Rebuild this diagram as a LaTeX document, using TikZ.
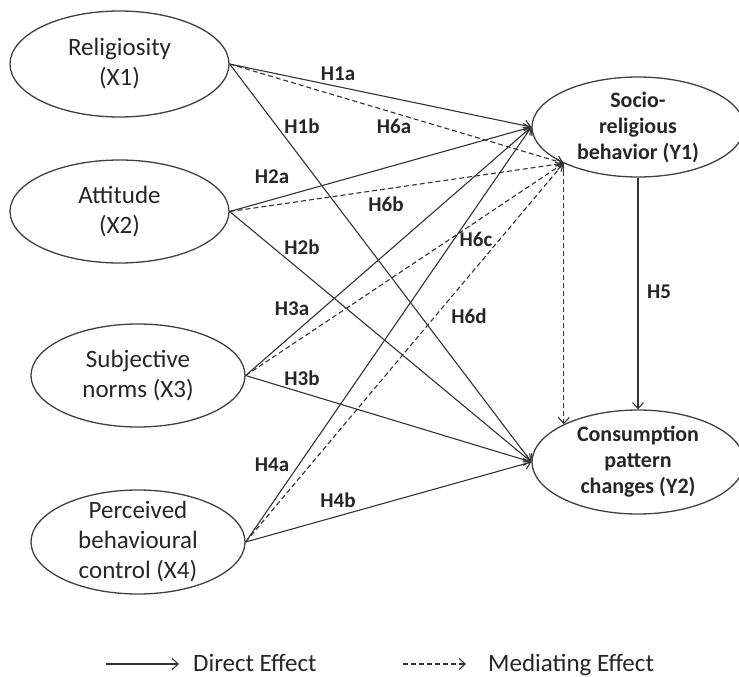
\documentclass[tikz,border=0pt]{standalone}
\usepackage{fontspec}
\setmainfont{Carlito}
\usetikzlibrary{shapes.geometric,arrows.meta}

\tikzset{
    latent/.style={ellipse,draw=black!75,line width=1.3pt,inner sep=0pt},
    lattext/.style={align=center,inner sep=0pt,text=black!85,font=\fontsize{25}{30}\selectfont},
    outtext/.style={lattext,font=\fontsize{22}{26}\selectfont\bfseries},
    hyp/.style={inner sep=0pt,text=black!85,font=\fontsize{21}{25}\selectfont\bfseries},
    direct/.style={draw=black!80,line width=1.1pt,-{Straight Barb[length=6pt,width=11pt]}},
    mediating/.style={direct,dash pattern=on 5pt off 3pt},
}

\begin{document}
\begin{tikzpicture}[x=1pt,y=-1pt]
    \useasboundingbox (0,0) rectangle (739,677);

    % independent constructs
    \node[latent,minimum width=219pt,minimum height=106pt] (rel) at (119.5,64) {};
    \node[lattext] (reltext) at (rel.center) {Religiosity\\(X1)};
    \node[latent,minimum width=219pt,minimum height=103pt] (att) at (119.5,211.5) {};
    \node[lattext] (atttext) at (att.center) {Attitude\\(X2)};
    \node[latent,minimum width=214pt,minimum height=103pt] (sn) at (138,375.5) {};
    \node[lattext] (sntext) at (sn.center) {Subjective\\norms (X3)};
    \node[latent,minimum width=214pt,minimum height=104pt] (pbc) at (138,542) {};
    \node[lattext] (pbctext) at (pbc.center) {Perceived\\behavioural\\control (X4)};

    % dependent constructs
    \node[latent,minimum width=212pt,minimum height=100pt] (srb) at (638,127) {};
    \node[outtext] (srbtext) at (srb.center) {Socio-\\religious\\behavior (Y1)};
    \node[latent,minimum width=212pt,minimum height=104pt] (cpc) at (638,462) {};
    \node[outtext] (cpctext) at (cpc.center) {Consumption\\pattern\\changes (Y2)};

    % direct effects
    \foreach \src in {rel,att,sn,pbc}{
        \draw[direct] (\src.east) -- (srb.west);
        \draw[direct] (\src.east) -- (cpc.west);
    }
    \draw[direct] (srb.south) -- (cpc.north);

    % mediating effects
    \foreach \src in {rel,att,sn,pbc}
        \draw[mediating] (\src.east) -- (srb.206);
    \draw[mediating] (cpc.153 |- srb.206) -- (cpc.153);

    % hypothesis labels
    \node[hyp] (h1a) at (338,74) {H1a};
    \node[hyp] (h1b) at (302,126) {H1b};
    \node[hyp] (h6a) at (394,126) {H6a};
    \node[hyp] (h2a) at (272,177) {H2a};
    \node[hyp] (h6b) at (386,204) {H6b};
    \node[hyp] (h2b) at (302,247) {H2b};
    \node[hyp] (h6c) at (476,239) {H6c};
    \node[hyp] (h3a) at (292,309) {H3a};
    \node[hyp] (h6d) at (469,316) {H6d};
    \node[hyp] (h5) at (659,292) {H5};
    \node[hyp] (h3b) at (302,378) {H3b};
    \node[hyp] (h4a) at (272,465) {H4a};
    \node[hyp] (h4b) at (338,500) {H4b};

    % legend
    \coordinate (ld1) at (106,664);
    \coordinate (ld2) at (179,664);
    \coordinate (lm1) at (403,664);
    \coordinate (lm2) at (466,664);
    \draw[direct] (ld1) -- (ld2);
    \draw[mediating] (lm1) -- (lm2);
    \node[lattext,anchor=base west] (ldir) at (193,671) {Direct Effect};
    \node[lattext,anchor=base west] (lmed) at (488,671) {Mediating Effect};
\end{tikzpicture}
\end{document}
